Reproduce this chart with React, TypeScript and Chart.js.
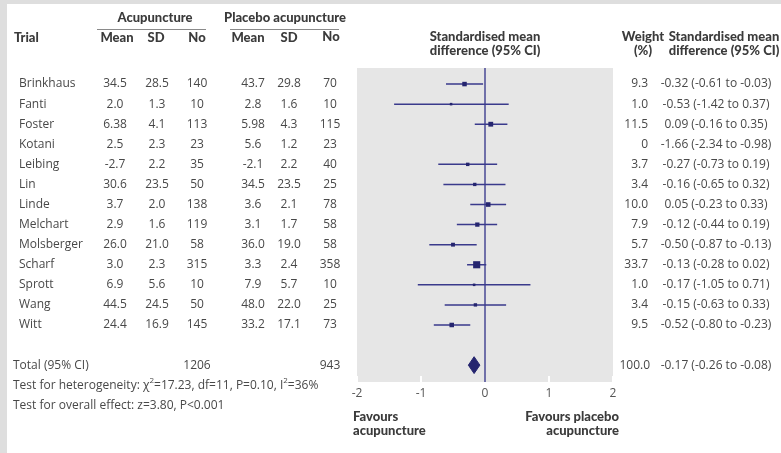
import React, { useEffect, useRef } from "react";
import { Chart, registerables } from "chart.js";
Chart.register(...registerables);

// ---------- data ----------
const trials = ["Brinkhaus", "Fanti", "Foster", "Kotani", "Leibing", "Lin", "Linde", "Melchart", "Molsberger", "Scharf", "Sprott", "Wang", "Witt"];
const acuMean = ["34.5", "2.0", "6.38", "2.5", "-2.7", "30.6", "3.7", "2.9", "26.0", "3.0", "6.9", "44.5", "24.4"];
const acuSD = ["28.5", "1.3", "4.1", "2.3", "2.2", "23.5", "2.0", "1.6", "21.0", "2.3", "5.6", "24.5", "16.9"];
const acuN = [140, 10, 113, 23, 35, 50, 138, 119, 58, 315, 10, 50, 145];
const plaMean = ["43.7", "2.8", "5.98", "5.6", "-2.1", "34.5", "3.6", "3.1", "36.0", "3.3", "7.9", "48.0", "33.2"];
const plaSD = ["29.8", "1.6", "4.3", "1.2", "2.2", "23.5", "2.1", "1.7", "19.0", "2.4", "5.7", "22.0", "17.1"];
const plaN = [70, 10, 115, 23, 40, 25, 78, 58, 58, 358, 10, 25, 73];
const weights = [9.3, 1.0, 11.5, 0, 3.7, 3.4, 10.0, 7.9, 5.7, 33.7, 1.0, 3.4, 9.5];
const smd = [-0.32, -0.53, 0.09, -1.66, -0.27, -0.16, 0.05, -0.12, -0.5, -0.13, -0.17, -0.15, -0.52];
const ciLow = [-0.61, -1.42, -0.16, -2.34, -0.73, -0.65, -0.23, -0.44, -0.87, -0.28, -1.05, -0.63, -0.8];
const ciHigh = [-0.03, 0.37, 0.35, -0.98, 0.19, 0.32, 0.33, 0.19, -0.13, 0.02, 0.71, 0.33, -0.23];
const totalN = [1206, 943];
const totalWeight = 100.0;
const totalSMD = [-0.17, -0.26, -0.08]; // estimate, low, high
const xTicks = [-2, -1, 0, 1, 2];
const heterogeneity = { chi2: "17.23", df: "11", p: "0.10", i2: "36%" };
const overallEffect = { z: "3.80", p: "P<0.001" };

// ---------- layout / style ----------
const W = 781;
const H = 453;
const TOTAL_ROW = trials.length + 1;
const Y_MIN = -0.8;
const Y_MAX = 14.84;
const DIAMOND_HALF = 0.42;
const TEXT = "#484848";
const HEAD = "#3b3b3b";
const NAVY = "#25256f";
const LINE = "#3a3a8c";
const BODY_FONT = '12px "Open Sans"';
const BOLD_FONT = '900 13px Lato';

const f2 = (v: number) => v.toFixed(2);

function txt(ctx: CanvasRenderingContext2D, s: string, x: number, y: number, align: CanvasTextAlign, font: string, color: string) {
  ctx.font = font;
  ctx.fillStyle = color;
  ctx.textAlign = align;
  ctx.textBaseline = "middle";
  ctx.fillText(s, x, y);
}

function supLine(ctx: CanvasRenderingContext2D, parts: [string, boolean][], x: number, y: number) {
  let cx = x;
  ctx.textAlign = "left";
  ctx.textBaseline = "middle";
  ctx.fillStyle = TEXT;
  for (const [s, sup] of parts) {
    ctx.font = sup ? '8px "Open Sans"' : BODY_FONT;
    ctx.fillText(s, cx, sup ? y - 4 : y);
    cx += ctx.measureText(s).width;
  }
}

const framePlugin = {
  id: "frame",
  beforeDraw(chart: any) {
    const { ctx, chartArea: a } = chart;
    ctx.save();
    ctx.fillStyle = "#dedede";
    ctx.fillRect(0, 0, W, H);
    ctx.fillStyle = "#ffffff";
    ctx.fillRect(7, 4, W - 7, H - 4);
    ctx.fillStyle = "#e6e6e6";
    ctx.fillRect(a.left, a.top, a.right - a.left, a.bottom - a.top);
    ctx.restore();
  },
  afterDatasetsDraw(chart: any) {
    const { ctx, chartArea: a, scales } = chart;
    ctx.save();
    ctx.strokeStyle = "#ffffff";
    ctx.lineWidth = 2;
    for (const t of xTicks) {
      if (t === 0) continue;
      const px = scales.x.getPixelForValue(t);
      ctx.beginPath();
      ctx.moveTo(px, a.bottom - 6);
      ctx.lineTo(px, a.bottom);
      ctx.stroke();
    }
    ctx.restore();
  },
};

const textPlugin = {
  id: "tableText",
  afterDraw(chart: any) {
    const { ctx, scales } = chart;
    const y = scales.y;
    ctx.save();
    // column headers
    txt(ctx, "Acupuncture", 155, 18, "center", BOLD_FONT, HEAD);
    txt(ctx, "Placebo acupuncture", 285, 18, "center", BOLD_FONT, HEAD);
    ctx.strokeStyle = "#8a8a8a";
    ctx.lineWidth = 1;
    ctx.beginPath();
    ctx.moveTo(97, 29.5);
    ctx.lineTo(206, 29.5);
    ctx.moveTo(230, 29.5);
    ctx.lineTo(339, 29.5);
    ctx.stroke();
    const hy = 38;
    txt(ctx, "Trial", 14, hy, "left", BOLD_FONT, HEAD);
    txt(ctx, "Mean", 117, hy, "center", BOLD_FONT, HEAD);
    txt(ctx, "SD", 156, hy, "center", BOLD_FONT, HEAD);
    txt(ctx, "No", 197, hy, "center", BOLD_FONT, HEAD);
    txt(ctx, "Mean", 248, hy, "center", BOLD_FONT, HEAD);
    txt(ctx, "SD", 289, hy, "center", BOLD_FONT, HEAD);
    txt(ctx, "No", 331, hy - 1, "center", BOLD_FONT, HEAD);
    txt(ctx, "Standardised mean", 485, 37, "center", BOLD_FONT, HEAD);
    txt(ctx, "difference (95% CI)", 485, 51, "center", BOLD_FONT, HEAD);
    txt(ctx, "Weight", 643, 37, "center", BOLD_FONT, HEAD);
    txt(ctx, "(%)", 643, 51, "center", BOLD_FONT, HEAD);
    txt(ctx, "Standardised mean", 724, 37, "center", BOLD_FONT, HEAD);
    txt(ctx, "difference (95% CI)", 724, 51, "center", BOLD_FONT, HEAD);

    // rows
    trials.forEach((name, i) => {
      const py = y.getPixelForValue(i);
      txt(ctx, name, 19, py, "left", BODY_FONT, TEXT);
      txt(ctx, acuMean[i], 115, py, "center", BODY_FONT, TEXT);
      txt(ctx, acuSD[i], 157, py, "center", BODY_FONT, TEXT);
      txt(ctx, String(acuN[i]), 197, py, "center", BODY_FONT, TEXT);
      txt(ctx, plaMean[i], 253, py, "center", BODY_FONT, TEXT);
      txt(ctx, plaSD[i], 289, py, "center", BODY_FONT, TEXT);
      txt(ctx, String(plaN[i]), 330, py, "center", BODY_FONT, TEXT);
      txt(ctx, weights[i] === 0 ? "0" : weights[i].toFixed(1), 648, py, "right", BODY_FONT, TEXT);
      txt(ctx, `${f2(smd[i])} (${f2(ciLow[i])} to ${f2(ciHigh[i])})`, 716, py, "center", BODY_FONT, TEXT);
    });

    // total
    const ty = y.getPixelForValue(TOTAL_ROW);
    txt(ctx, "Total (95% CI)", 13, ty, "left", BODY_FONT, TEXT);
    txt(ctx, String(totalN[0]), 197, ty, "center", BODY_FONT, TEXT);
    txt(ctx, String(totalN[1]), 330, ty, "center", BODY_FONT, TEXT);
    txt(ctx, totalWeight.toFixed(1), 650, ty, "right", BODY_FONT, TEXT);
    txt(ctx, `${f2(totalSMD[0])} (${f2(totalSMD[1])} to ${f2(totalSMD[2])})`, 716, ty, "center", BODY_FONT, TEXT);

    supLine(
      ctx,
      [
        ["Test for heterogeneity: \u03c7", false],
        ["2", true],
        [`=${heterogeneity.chi2}, df=${heterogeneity.df}, P=${heterogeneity.p}, I`, false],
        ["2", true],
        [`=${heterogeneity.i2}`, false],
      ],
      13,
      y.getPixelForValue(TOTAL_ROW + 1)
    );
    txt(ctx, `Test for overall effect: z=${overallEffect.z}, ${overallEffect.p}`, 13, y.getPixelForValue(TOTAL_ROW + 2), "left", BODY_FONT, TEXT);

    // favours labels
    txt(ctx, "Favours", 353, 417, "left", BOLD_FONT, HEAD);
    txt(ctx, "acupuncture", 353, 431, "left", BOLD_FONT, HEAD);
    txt(ctx, "Favours placebo", 619, 417, "right", BOLD_FONT, HEAD);
    txt(ctx, "acupuncture", 619, 431, "right", BOLD_FONT, HEAD);
    ctx.restore();
  },
};

export default function App() {
  const ref = useRef<HTMLCanvasElement | null>(null);
  useEffect(() => {
    if (!ref.current) return;
    const ciData: any[] = [];
    const ptData: any[] = [];
    const ptSize: number[] = [];
    trials.forEach((_, i) => {
      if (weights[i] <= 0) return;
      ciData.push({ x: ciLow[i], y: i }, { x: ciHigh[i], y: i }, { x: ciHigh[i], y: null });
      ptData.push({ x: smd[i], y: i });
      const side = 1.6 + 0.95 * Math.sqrt(weights[i]);
      ptSize.push(side / Math.SQRT2);
    });
    const diamond = [
      { x: totalSMD[1], y: TOTAL_ROW },
      { x: totalSMD[0], y: TOTAL_ROW - DIAMOND_HALF },
      { x: totalSMD[2], y: TOTAL_ROW },
      { x: totalSMD[0], y: TOTAL_ROW + DIAMOND_HALF },
      { x: totalSMD[1], y: TOTAL_ROW },
    ];
    const chart = new Chart(ref.current, {
      type: "scatter",
      data: {
        datasets: [
          {
            type: "scatter",
            data: ptData,
            pointStyle: "rect",
            pointRadius: ptSize,
            pointHoverRadius: ptSize,
            backgroundColor: NAVY,
            borderWidth: 0,
            order: 0,
          } as any,
          {
            type: "line",
            data: diamond,
            borderColor: NAVY,
            borderWidth: 1,
            backgroundColor: NAVY,
            fill: "shape",
            pointRadius: 0,
            tension: 0,
            order: 1,
          } as any,
          {
            type: "line",
            data: ciData,
            borderColor: LINE,
            borderWidth: 1.5,
            pointRadius: 0,
            spanGaps: false,
            fill: false,
            order: 2,
          } as any,
          {
            type: "line",
            data: [
              { x: 0, y: Y_MIN },
              { x: 0, y: Y_MAX },
            ],
            borderColor: "#4a4a95",
            borderWidth: 1.5,
            pointRadius: 0,
            fill: false,
            order: 3,
          } as any,
        ],
      },
      options: {
        responsive: false,
        animation: false,
        events: [],
        layout: { padding: { left: 357, right: W - 613, top: 68, bottom: H - 382 - 20 } },
        plugins: { legend: { display: false }, tooltip: { enabled: false } },
        scales: {
          x: {
            type: "linear",
            min: -2,
            max: 2,
            afterBuildTicks: (s: any) => {
              s.ticks = xTicks.map((v) => ({ value: v }));
            },
            afterFit: (s: any) => {
              s.height = 20;
            },
            grid: { display: false, drawTicks: false },
            border: { display: false },
            ticks: {
              color: "#555555",
              font: { family: "Open Sans", size: 12 },
              padding: 4,
              maxRotation: 0,
              callback: (v: any) => String(v),
            },
          },
          y: {
            type: "linear",
            reverse: true,
            min: Y_MIN,
            max: Y_MAX,
            display: false,
          },
        },
      },
      plugins: [framePlugin, textPlugin],
    });
    return () => chart.destroy();
  }, []);
  return (
    <div style={{ position: "absolute", left: 0, top: 0, width: W, height: H }}>
      <canvas ref={ref} width={W} height={H} style={{ width: W, height: H, display: "block" }} />
    </div>
  );
}
